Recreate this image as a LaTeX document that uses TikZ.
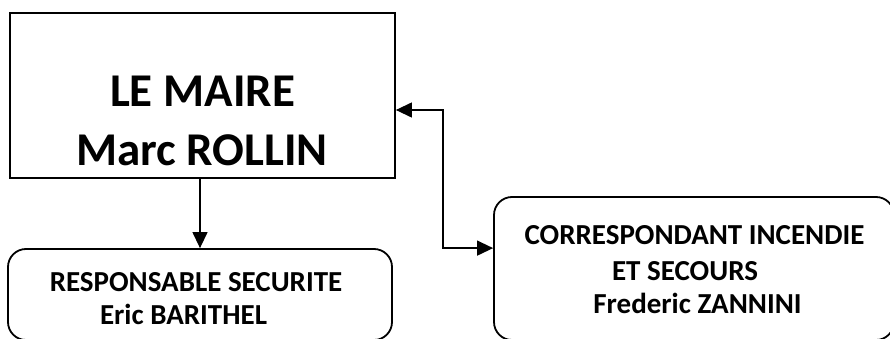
\documentclass[tikz,border=0pt]{standalone}
\usepackage{fontspec}
\setmainfont{Carlito}
\usetikzlibrary{arrows.meta}
\begin{document}
\begin{tikzpicture}[x=1pt,y=1pt,
  boxline/.style={draw=black,line width=1.8pt},
  roundbox/.style={boxline,rounded corners=18pt},
  bigtxt/.style={font=\fontsize{47}{56}\selectfont\bfseries,anchor=base,inner sep=0pt},
  smalltxt/.style={font=\fontsize{29}{35}\selectfont\bfseries,anchor=base,inner sep=0pt},
  tip/.style={Triangle[length=16pt,width=15pt]},
  conn/.style={line width=1.3pt,-{Triangle[length=16pt,width=15pt]}},
  conn2/.style={line width=1.3pt,{Triangle[length=16pt,width=15pt]}-{Triangle[length=16pt,width=15pt]}}
]
\useasboundingbox (0,0) rectangle (890,338);
\fill[white] (0,0) rectangle (890,338);
% boxes
\node[boxline,minimum width=385pt,minimum height=165pt,inner sep=0pt] (maire) at (202.5,242.5) {};
\node[roundbox,minimum width=384pt,minimum height=91pt,inner sep=0pt] (resp) at (200,43.5) {};
\node[roundbox,minimum width=400pt,minimum height=143pt,inner sep=0pt] (corr) at (694,69.5) {};
% texts
\node[smalltxt] (t3) at (196,47) {RESPONSABLE SECURITE};
\node[bigtxt] (t1) at (202.5,232) {LE MAIRE};
\node[bigtxt] (t2) at (202,173) {Marc ROLLIN};
\node[smalltxt] (t4) at (183.5,14) {Eric BARITHEL};
\node[smalltxt] (t5) at (694.5,94) {CORRESPONDANT INCENDIE};
\node[smalltxt] (t6) at (685,58) {ET SECOURS};
\node[smalltxt] (t7) at (697.5,25) {Frederic ZANNINI};
% connectors
\coordinate (bend) at (443,0);
\draw[conn] ([xshift=-2.5pt]maire.south) -- ([xshift=-2.5pt]maire.south |- resp.north);
\draw[conn2] ([yshift=-14.5pt]maire.east) -| (bend |- resp.north) -- (corr.west |- resp.north);
\end{tikzpicture}
\end{document}
